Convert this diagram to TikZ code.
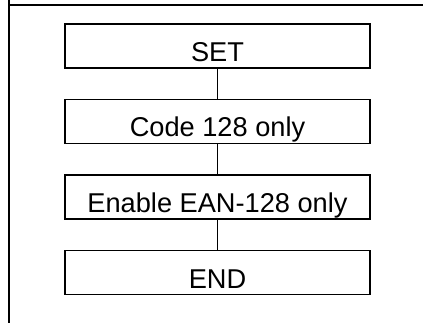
\documentclass[tikz,border=0pt]{standalone}
\usepackage{fontspec}
\setmainfont{Liberation Sans}
\usetikzlibrary{positioning}
\tikzset{
  x=1pt,y=1pt,
  stepbox/.style={draw,line width=1.1pt,minimum width=305pt,minimum height=44pt,
    inner ysep=0pt,outer sep=0pt,text height=31pt,text depth=0pt,
    font=\fontsize{27.2}{30}\selectfont},
  link/.style={draw,line width=1.1pt},
  frame/.style={line width=2.3pt},
}

\begin{document}
\begin{tikzpicture}
  \useasboundingbox (0,0) rectangle (423,-323);
  % outer frame
  \draw[frame] (9,0) -- (9,-323);
  \draw[frame] (9,-5) -- (423,-5);
  % steps
  \node[stepbox] (set) at (217.5,-46) {SET};
  \node[stepbox,below=31.5pt of set] (code) {Code 128 only};
  \node[stepbox,below=31.5pt of code] (ean) {Enable EAN-128 only};
  \node[stepbox,below=31.5pt of ean] (fin) {END};
  \draw[link] (set.south) -- (code.north);
  \draw[link] (code.south) -- (ean.north);
  \draw[link] (ean.south) -- (fin.north);
\end{tikzpicture}
\end{document}
